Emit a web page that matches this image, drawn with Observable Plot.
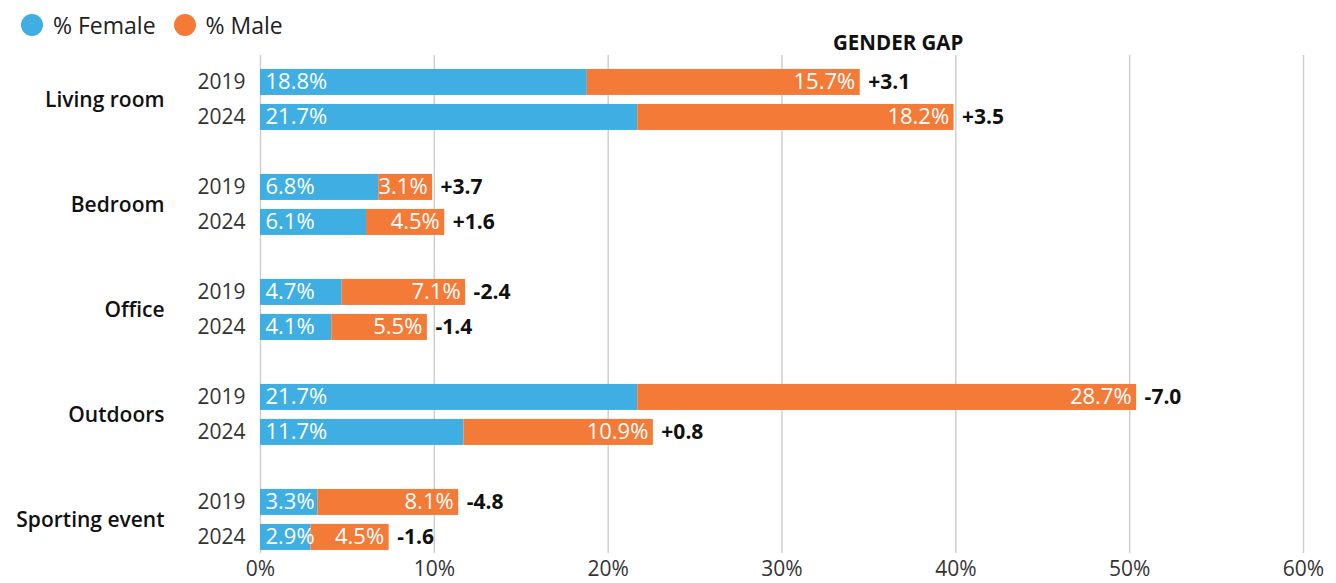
<!DOCTYPE html>
<html><head><meta charset="utf-8">
<script src="https://cdn.jsdelivr.net/npm/d3@7"></script>
<script src="https://cdn.jsdelivr.net/npm/@observablehq/plot@0.6"></script>
<style>
body{margin:0;background:#fff;font-family:"Open Sans",sans-serif;}
#header{position:relative;height:55px;width:1336px;}
.leg{position:absolute;top:9px;left:21px;display:flex;align-items:center;font-size:23px;color:#222;}
.item{display:flex;align-items:center;margin-right:18px;}
.sw{width:22px;height:22px;border-radius:50%;display:inline-block;margin-right:10px;}
#gap{position:absolute;left:833px;top:28px;font-weight:700;font-size:20.5px;color:#111;}
</style></head><body>
<div id="header"><div class="leg" id="legend"></div><div id="gap">GENDER GAP</div></div>
<div id="chart"></div>
<script>
const categories = ["Living room","Bedroom","Office","Outdoors","Sporting event"];
const years = ["2019","2024"];
const female2019 = [18.8, 6.8, 4.7, 21.7, 3.3];
const female2024 = [21.7, 6.1, 4.1, 11.7, 2.9];
const male2019 = [15.7, 3.1, 7.1, 28.7, 8.1];
const male2024 = [18.2, 4.5, 5.5, 10.9, 4.5];
const xTicks = [0, 10, 20, 30, 40, 50, 60];
const seriesNames = ["% Female", "% Male"];
const colors = ["#3eaee3", "#f47a38"];

// legend
const leg = document.getElementById("legend");
seriesNames.forEach((n, i) => {
  const it = document.createElement("span"); it.className = "item";
  it.innerHTML = `<span class="sw" style="background:${colors[i]}"></span>${n}`;
  leg.appendChild(it);
});

const femaleBy = {"2019": female2019, "2024": female2024};
const maleBy = {"2019": male2019, "2024": male2024};
const rows = [];
categories.forEach((c, i) => years.forEach(y => {
  const f = femaleBy[y][i], m = maleBy[y][i];
  rows.push({cat: c, year: y, key: c + "|" + y, female: f, male: m, total: f + m, gap: f - m});
}));
const domain = [];
categories.forEach((c, i) => {
  years.forEach(y => domain.push(c + "|" + y));
  if (i < categories.length - 1) domain.push(c + "|");
});
const fmt = v => v.toFixed(1) + "%";
const fmtGap = v => (v >= 0 ? "+" : "-") + Math.abs(v).toFixed(1);

const chart = Plot.plot({
  width: 1336, height: 528,
  marginLeft: 260, marginRight: 33, marginTop: 0, marginBottom: 30,
  style: {fontFamily: "Open Sans", fontSize: "21px", color: "#222", background: "#fff"},
  x: {domain: [0, 60]},
  y: {type: "band", domain, paddingInner: 0.2571, paddingOuter: 0.243, align: 0.82, round: false, axis: null},
  marks: [
    Plot.ruleX(xTicks, {x: d => d, stroke: "#cfcfcf", strokeWidth: 1.5}),
    Plot.axisX({ticks: xTicks, tickFormat: d => d + "%", tickSize: 0, tickPadding: 8, fontSize: 21, fill: "#333"}),
    Plot.barX(rows, {y: "key", x1: 0, x2: "female", fill: colors[0]}),
    Plot.barX(rows, {y: "key", x1: "female", x2: "total", fill: colors[1]}),
    Plot.text(rows, {y: "key", x: 0, text: d => fmt(d.female), dx: 5, textAnchor: "start", fill: "#fff", fontSize: 22}),
    Plot.text(rows, {y: "key", x: "total", text: d => fmt(d.male), dx: -5, textAnchor: "end", fill: "#fff", fontSize: 22}),
    Plot.text(rows, {y: "key", x: "total", text: d => fmtGap(d.gap), dx: 8, textAnchor: "start", fill: "#111", fontWeight: 700, fontSize: 21}),
    Plot.text(rows, {y: "key", x: 0, text: "year", dx: -15, textAnchor: "end", fill: "#333", fontSize: 21}),
    Plot.text(categories, {y: d => d + "|2019", x: 0, text: d => d, dy: 17.5, dx: -96, textAnchor: "end", fill: "#111", fontWeight: 600, fontSize: 21})
  ]
});
document.getElementById("chart").appendChild(chart);
</script>
</body></html>
